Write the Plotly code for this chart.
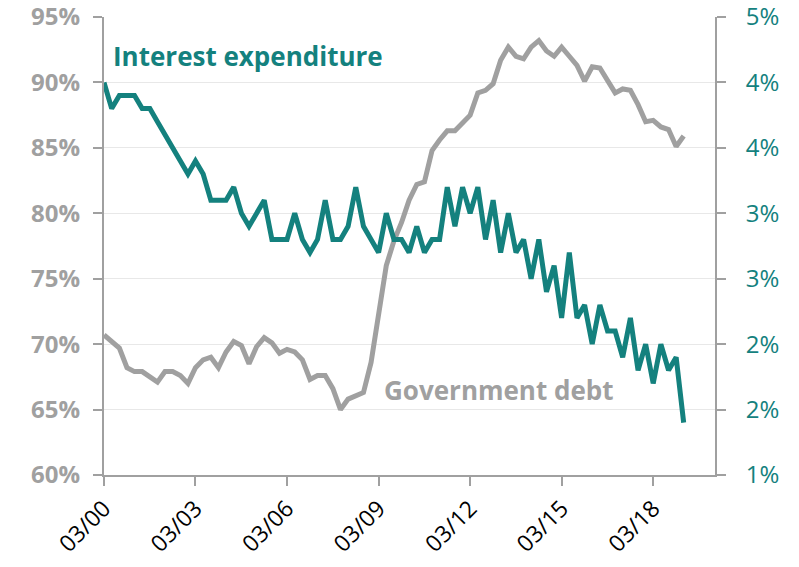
import plotly.graph_objects as go
import pandas as pd

# Quarterly observations, March 2000 to March 2019
quarters = pd.date_range("2000-03-01", periods=77, freq="3MS")

# Government debt, % (left axis)
government_debt = [
    70.7, 70.2, 69.7, 68.2, 67.9, 67.9, 67.5, 67.1, 67.9, 67.9,
    67.6, 67.0, 68.2, 68.8, 69.0, 68.2, 69.4, 70.2, 69.9, 68.5,
    69.8, 70.5, 70.1, 69.3, 69.6, 69.4, 68.8, 67.3, 67.6, 67.6,
    66.6, 65.0, 65.8, 66.1, 66.3, 68.6, 72.5, 76.0, 77.9, 79.3,
    81.0, 82.2, 82.4, 84.8, 85.6, 86.3, 86.3, 86.9, 87.5, 89.2,
    89.4, 89.9, 91.7, 92.7, 92.0, 91.8, 92.7, 93.2, 92.4, 92.0,
    92.7, 92.0, 91.3, 90.1, 91.2, 91.1, 90.1, 89.2, 89.5, 89.4,
    88.3, 87.0, 87.1, 86.6, 86.4, 85.1, 85.9,
]

# Interest expenditure, % (right axis)
interest_expenditure = [
    4.0, 3.8, 3.9, 3.9, 3.9, 3.8, 3.8, 3.7, 3.6, 3.5,
    3.4, 3.3, 3.4, 3.3, 3.1, 3.1, 3.1, 3.2, 3.0, 2.9,
    3.0, 3.1, 2.8, 2.8, 2.8, 3.0, 2.8, 2.7, 2.8, 3.1,
    2.8, 2.8, 2.9, 3.2, 2.9, 2.8, 2.7, 3.0, 2.8, 2.8,
    2.7, 2.9, 2.7, 2.8, 2.8, 3.2, 2.9, 3.2, 3.0, 3.2,
    2.8, 3.1, 2.7, 3.0, 2.7, 2.8, 2.5, 2.8, 2.4, 2.6,
    2.2, 2.7, 2.2, 2.3, 2.0, 2.3, 2.1, 2.1, 1.9, 2.2,
    1.8, 2.0, 1.7, 2.0, 1.8, 1.9, 1.4,
]

left_ticks = [60, 65, 70, 75, 80, 85, 90, 95]
left_tick_text = ["60%", "65%", "70%", "75%", "80%", "85%", "90%", "95%"]
right_ticks = [1.0, 1.5, 2.0, 2.5, 3.0, 3.5, 4.0, 4.5]
right_tick_text = ["1%", "2%", "2%", "3%", "3%", "4%", "4%", "5%"]

TEAL = "#14817e"
GRAY = "#a0a0a0"
FONT = "Open Sans"

fig = go.Figure()
fig.add_trace(go.Scatter(
    x=quarters, y=government_debt, mode="lines",
    line=dict(color=GRAY, width=5), yaxis="y", showlegend=False,
    name="Government debt",
))
fig.add_trace(go.Scatter(
    x=quarters, y=interest_expenditure, mode="lines",
    line=dict(color=TEAL, width=5), yaxis="y2", showlegend=False,
    name="Interest expenditure",
))

fig.update_layout(
    width=799, height=567,
    margin=dict(l=104, r=84, t=17, b=92, autoexpand=False),
    paper_bgcolor="white", plot_bgcolor="white",
    font=dict(family=FONT),
    xaxis=dict(
        type="date", automargin=False,
        range=["2000-03-01", "2020-03-10"],
        tick0="2000-03-01", dtick="M36", tickformat="%m/%y",
        tickangle=-45,
        tickfont=dict(family=FONT, size=23, color="black"),
        showgrid=False,
        showline=True, linecolor=GRAY, linewidth=2,
        ticks="outside", ticklen=9, tickwidth=2, tickcolor=GRAY,
        zeroline=False,
    ),
    yaxis=dict(
        range=[60, 95], tickvals=left_ticks, ticktext=left_tick_text,
        automargin=False, ticklabeloverflow="allow",
        tickfont=dict(family=FONT, size=24, color=GRAY, weight="bold"),
        showgrid=True, gridcolor="#e8e8e8", gridwidth=1,
        showline=True, linecolor=GRAY, linewidth=2,
        ticks="outside", ticklen=9, tickwidth=2, tickcolor=GRAY,
        ticklabelstandoff=8,
        zeroline=False,
    ),
    yaxis2=dict(
        range=[1.0, 4.5], tickvals=right_ticks, ticktext=right_tick_text,
        overlaying="y", side="right", automargin=False,
        ticklabeloverflow="allow",
        tickfont=dict(family=FONT, size=24, color=TEAL),
        showgrid=False,
        showline=True, linecolor=GRAY, linewidth=2,
        ticks="outside", ticklen=9, tickwidth=2, tickcolor=GRAY,
        ticklabelstandoff=15,
        zeroline=False,
    ),
    annotations=[
        dict(text="<b>Interest expenditure</b>", xref="paper", yref="paper",
             x=0.012, y=0.915, xanchor="left", yanchor="middle",
             showarrow=False, font=dict(family=FONT, size=26, color=TEAL)),
        dict(text="<b>Government debt</b>", xref="paper", yref="paper",
             x=0.455, y=0.185, xanchor="left", yanchor="middle",
             showarrow=False, font=dict(family=FONT, size=26, color=GRAY)),
    ],
)

fig.write_html("out.html")
